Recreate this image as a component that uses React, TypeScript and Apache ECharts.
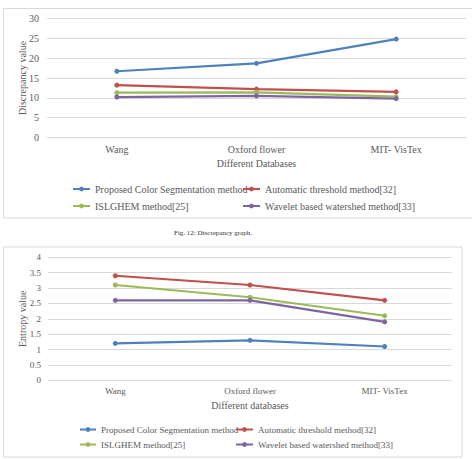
import React, { useEffect, useRef } from "react";
import * as echarts from "echarts";

const seriesNames = [
  "Proposed Color Segmentation method",
  "Automatic threshold method[32]",
  "ISLGHEM method[25]",
  "Wavelet based watershed method[33]",
];
const colors = ["#4F81BD", "#C0504D", "#9BBB59", "#8064A2"];

const topCategories = ["Wang", "Oxford flower", "MIT- VisTex"];
const topProposed = [16.7, 18.7, 24.8];
const topAutomatic = [13.2, 12.2, 11.5];
const topIslghem = [11.3, 11.4, 10.3];
const topWavelet = [10.2, 10.5, 9.8];

const bottomCategories = ["Wang", "Oxford flower", "MIT- VisTex"];
const bottomProposed = [1.2, 1.3, 1.1];
const bottomAutomatic = [3.4, 3.1, 2.6];
const bottomIslghem = [3.1, 2.7, 2.1];
const bottomWavelet = [2.6, 2.6, 1.9];

const FONT = "'Liberation Serif', 'Times New Roman', serif";

export default function App() {
  const ref = useRef<HTMLDivElement>(null);
  useEffect(() => {
    if (!ref.current) return;
    const chart = echarts.init(ref.current, null, { renderer: "svg" });
    const topData = [topProposed, topAutomatic, topIslghem, topWavelet];
    const bottomData = [bottomProposed, bottomAutomatic, bottomIslghem, bottomWavelet];
    const mkSeries = (data: number[][], idx: number) =>
      data.map((d, i) => ({
        name: seriesNames[i],
        type: "line",
        xAxisIndex: idx,
        yAxisIndex: idx,
        data: d,
        symbol: "circle",
        symbolSize: 5,
        color: colors[i],
        lineStyle: { width: 2.2, color: colors[i] },
        itemStyle: { color: colors[i] },
      }));
    const legendBase = {
      orient: "vertical",
      padding: 0,
      itemHeight: 6,
      selectedMode: false,
    };
    const yAxisBase = {
      type: "value",
      nameLocation: "middle",
      nameRotate: 90,
      nameMoveOverlap: false,
      axisLine: { show: false },
      axisTick: { show: false },
      splitLine: { lineStyle: { color: "#D9D9D9", width: 1 } },
    };
    const xAxisBase = {
      type: "category",
      boundaryGap: true,
      nameLocation: "middle",
      axisLine: { show: true, lineStyle: { color: "#D9D9D9" } },
      axisTick: { show: false },
    };
    const t10 = { fontFamily: FONT, fontSize: 10, color: "#595959" };
    const t9 = { fontFamily: FONT, fontSize: 9, color: "#595959" };
    chart.setOption({
      animation: false,
      backgroundColor: "#ffffff",
      textStyle: { fontFamily: FONT },
      grid: [
        { left: 47, top: 18.5, width: 419, height: 119 },
        { left: 48, top: 257.3, width: 404, height: 123 },
      ],
      xAxis: [
        {
          ...xAxisBase,
          gridIndex: 0,
          data: topCategories,
          name: "Different Databases",
          nameGap: 21,
          nameTextStyle: t10,
          axisLabel: { ...t10, margin: 7 },
        },
        {
          ...xAxisBase,
          gridIndex: 1,
          data: bottomCategories,
          name: "Different databases",
          nameGap: 20,
          nameTextStyle: t10,
          axisLabel: { ...t9, margin: 6 },
        },
      ],
      yAxis: [
        {
          ...yAxisBase,
          gridIndex: 0,
          min: 0,
          max: 30,
          interval: 5,
          name: "Discrepancy value",
          nameGap: 20,
          nameTextStyle: t10,
          axisLabel: { ...t10, margin: 8 },
        },
        {
          ...yAxisBase,
          gridIndex: 1,
          min: 0,
          max: 4,
          interval: 0.5,
          name: "Entropy value",
          nameGap: 21,
          nameTextStyle: t10,
          axisLabel: { ...t9, margin: 7 },
        },
      ],
      legend: [
        { ...legendBase, left: 72, top: 184, itemWidth: 17, itemGap: 7, data: [seriesNames[0], seriesNames[2]], textStyle: t10 },
        { ...legendBase, left: 242, top: 184, itemWidth: 17, itemGap: 7, data: [seriesNames[1], seriesNames[3]], textStyle: t10 },
        { ...legendBase, left: 79, top: 425, itemWidth: 16, itemGap: 6, data: [seriesNames[0], seriesNames[2]], textStyle: t9 },
        { ...legendBase, left: 235, top: 425, itemWidth: 17, itemGap: 6, data: [seriesNames[1], seriesNames[3]], textStyle: t9 },
      ],
      graphic: [
        {
          type: "rect",
          shape: { x: 3.5, y: 8.5, width: 471, height: 209.5 },
          style: { fill: "none", stroke: "#D9D9D9", lineWidth: 1 },
          silent: true,
          z: -1,
        },
        {
          type: "rect",
          shape: { x: 3.5, y: 247, width: 458.5, height: 210 },
          style: { fill: "none", stroke: "#D9D9D9", lineWidth: 1 },
          silent: true,
          z: -1,
        },
        {
          type: "text",
          x: 213,
          y: 233,
          style: {
            text: "Fig. 12: Discrepancy graph.",
            fontFamily: FONT,
            fontSize: 7,
            fill: "#333333",
            align: "center",
            verticalAlign: "middle",
          },
        },
      ],
      series: [...mkSeries(topData, 0), ...mkSeries(bottomData, 1)],
    });
    return () => chart.dispose();
  }, []);
  return (
    <div
      ref={ref}
      style={{ position: "absolute", left: 0, top: 0, width: 472, height: 459, background: "#fff" }}
    />
  );
}
